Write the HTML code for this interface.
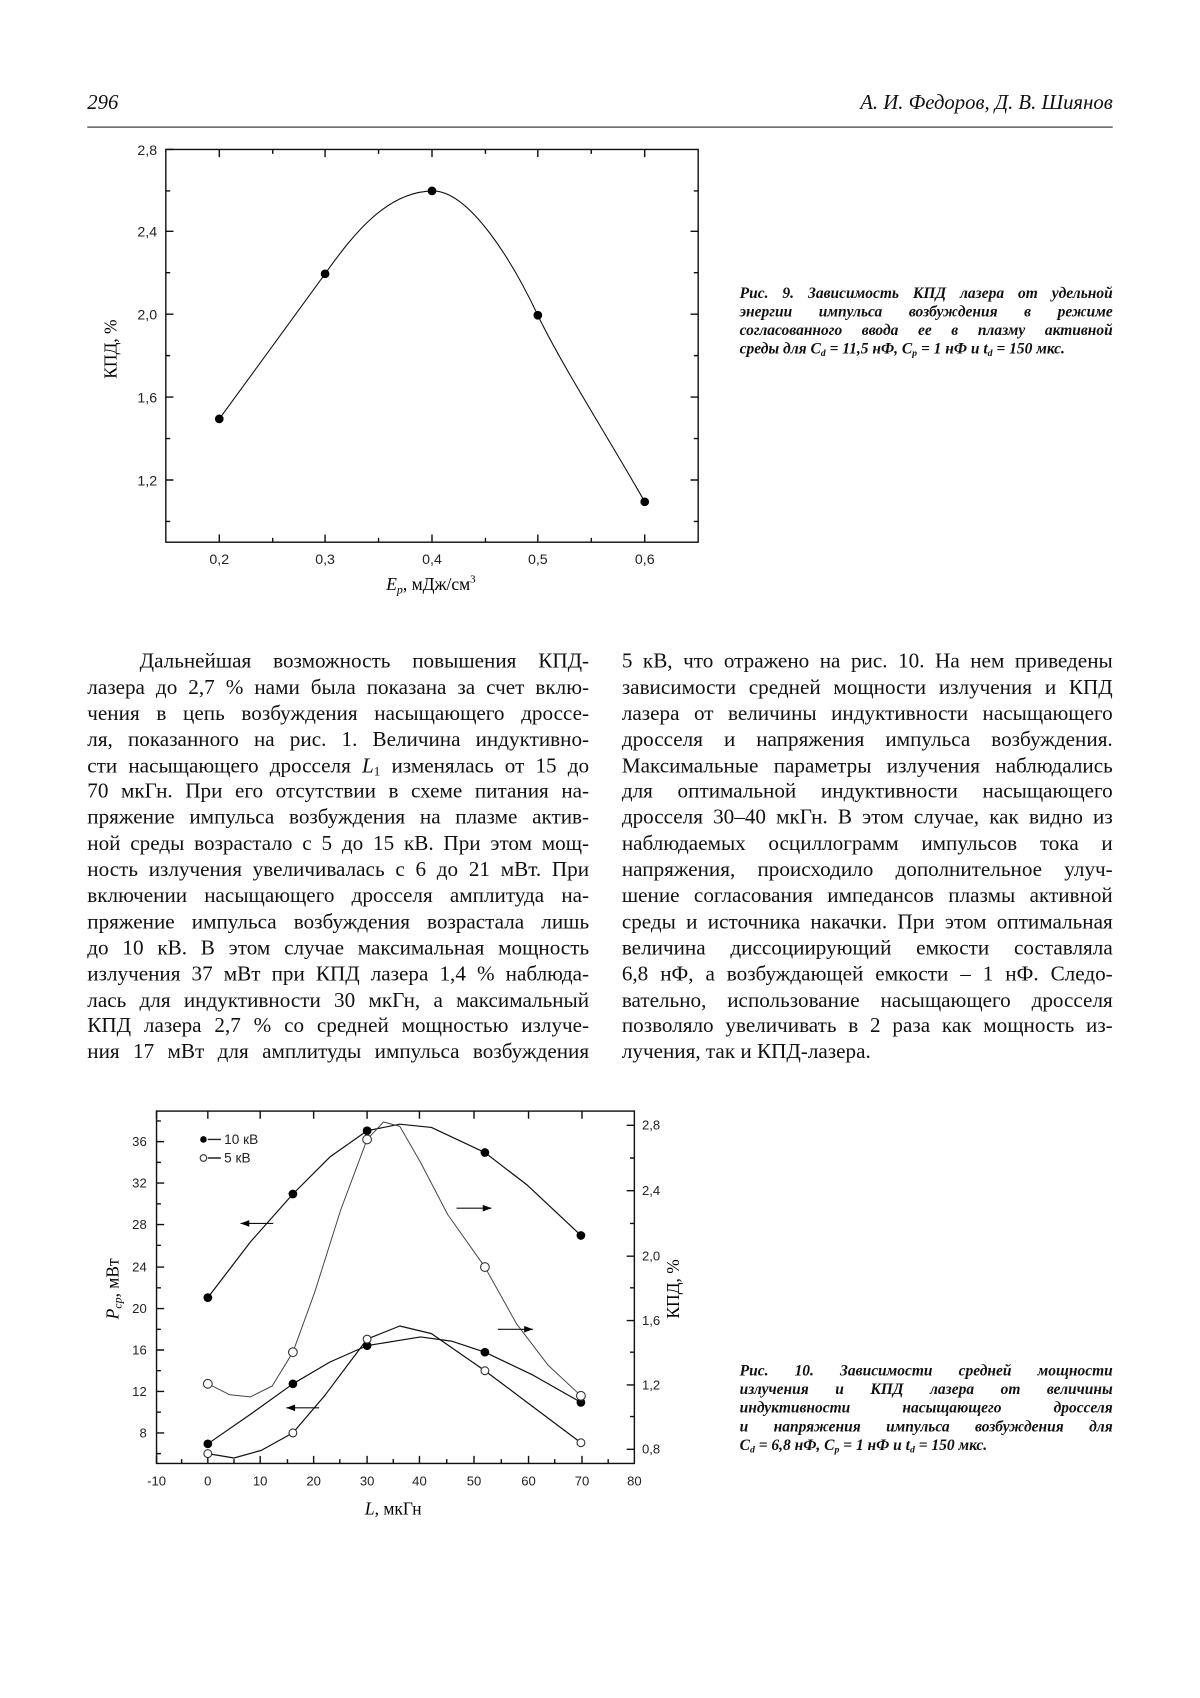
<!DOCTYPE html>
<html><head><meta charset="utf-8">
<style>
html,body{margin:0;padding:0;background:#fff;}
body{width:1200px;height:1698px;overflow:hidden;}
#p{position:absolute;left:0;top:0;width:1100px;height:1556px;transform:scale(1.090909);transform-origin:0 0;font-family:"Liberation Serif",serif;color:#111;}
.abs{position:absolute;}
.col{position:absolute;top:595px;font-size:19.4px;line-height:23.9px;}
.col div{height:23.9px;text-align:justify;text-align-last:justify;white-space:nowrap;}
.col div.l{text-align-last:left;}
sub{line-height:0;vertical-align:-0.25em;}
.cap{position:absolute;font-weight:bold;font-style:italic;font-size:14.2px;line-height:17px;}
.cap div{text-align:justify;text-align-last:justify;white-space:nowrap;}
.cap div.l{text-align-last:left;}
svg text{font-family:"Liberation Sans",sans-serif;}
</style></head><body><div id="p">
<div class="abs" style="left:80px;top:84px;font-size:19px;font-style:italic;">296</div>
<div class="abs" style="right:80px;top:84px;font-size:19px;font-style:italic;">А. И. Федоров, Д. В. Шиянов</div>
<div class="abs" style="left:80px;top:116px;width:940px;height:1.3px;background:#222;"></div>

<svg class="abs" style="left:0;top:0" width="1100" height="1556">
<g stroke="#111" fill="none" stroke-width="1.3">
<rect x="152" y="137" width="488" height="360"/>
<path d="M201,497v-7M298,497v-7M396,497v-7M493,497v-7M591,497v-7M250,497v-4M347,497v-4M445,497v-4M542,497v-4
M201,137v7M298,137v7M396,137v7M493,137v7M591,137v7M250,137v4M347,137v4M445,137v4M542,137v4
M152,137h7M152,212h7M152,288h7M152,364h7M152,440h7M152,175h4M152,250h4M152,326h4M152,402h4M152,478h4
M640,212h-7M640,288h-7M640,364h-7M640,440h-7M640,175h-4M640,250h-4M640,326h-4M640,402h-4M640,478h-4"/>
<path stroke-width="1" d="M201,384 C230,344 270,290 298,251 C325,213 355,176 396,175 C430,174 470,240 493,289 C515,335 560,405 591,460"/>
</g>
<g fill="#000"><circle cx="201" cy="384" r="4"/><circle cx="298" cy="251" r="4"/><circle cx="396" cy="175" r="4"/><circle cx="493" cy="289" r="4"/><circle cx="591" cy="460" r="4"/></g>
<g font-size="13" text-anchor="end" fill="#222">
<text x="144" y="142">2,8</text><text x="144" y="217">2,4</text><text x="144" y="293">2,0</text><text x="144" y="369">1,6</text><text x="144" y="445">1,2</text>
</g>
<g font-size="13" text-anchor="middle" fill="#222">
<text x="201" y="517">0,2</text><text x="298" y="517">0,3</text><text x="396" y="517">0,4</text><text x="493" y="517">0,5</text><text x="591" y="517">0,6</text>
</g>
<text transform="translate(107,320) rotate(-90)" text-anchor="middle" font-size="16" style="font-family:'Liberation Serif',serif">КПД, %</text>
<text x="395" y="541" text-anchor="middle" font-size="16" style="font-family:'Liberation Serif',serif"><tspan font-style="italic">E</tspan><tspan font-style="italic" font-size="11" dy="3">p</tspan><tspan dy="-3">, мДж/см</tspan><tspan font-size="10" dy="-7">3</tspan></text>

<g transform="translate(-1.5,-8.5)">
<g stroke="#111" fill="none" stroke-width="1.3">
<rect x="145" y="1027" width="438" height="323"/>
<path d="M145,1350v-7M192,1350v-7M240,1350v-7M289,1350v-7M338,1350v-7M386,1350v-7M436,1350v-7M486,1350v-7M535,1350v-7
M168,1350v-4M216,1350v-4M265,1350v-4M313,1350v-4M362,1350v-4M411,1350v-4M461,1350v-4M510,1350v-4M559,1350v-4
M145,1027v7M192,1027v7M240,1027v7M289,1027v7M338,1027v7M386,1027v7M436,1027v7M486,1027v7M535,1027v7
M145,1055h7M145,1093h7M145,1131h7M145,1170h7M145,1208h7M145,1246h7M145,1284h7M145,1322h7
M145,1036h4M145,1074h4M145,1112h4M145,1150h4M145,1189h4M145,1227h4M145,1265h4M145,1303h4M145,1341h4
M583,1040h-7M583,1100h-7M583,1160h-7M583,1219h-7M583,1278h-7M583,1337h-7
M583,1070h-4M583,1130h-4M583,1189h-4M583,1248h-4M583,1307h-4"/>
<g stroke-width="1.1" stroke-linejoin="round">
<polyline points="192,1198 231,1147 270,1103 304,1069 338,1045 368,1039 397,1042 446,1065 485,1095 534,1141"/>
<polyline stroke="#444" stroke-width="0.9" points="192,1277 212,1287 231,1289 251,1279 270,1248 290,1193 314,1117 338,1053 353,1037 368,1041 387,1074 412,1122 446,1170 475,1222 504,1260 534,1288"/>
<polyline points="192,1341 216,1345 241,1338 270,1322 299,1288 338,1236 368,1224 397,1231 446,1265 490,1298 534,1331"/>
<polyline points="192,1332 231,1305 270,1277 304,1257 338,1242 387,1234 416,1238 446,1248 490,1269 534,1294"/>
</g>
<path d="M222,1130h30M264,1299h30M420,1116h32M458,1227h32" stroke-width="1"/>
</g>
<g fill="#000">
<path d="M222,1130l8,-3v6zM264,1299l8,-3v6zM452,1116l-8,-3v6zM490,1227l-8,-3v6z"/>
<circle cx="192" cy="1198" r="4"/><circle cx="270" cy="1103" r="4"/><circle cx="338" cy="1045" r="4"/><circle cx="446" cy="1065" r="4"/><circle cx="534" cy="1141" r="4"/>
<circle cx="192" cy="1332" r="4"/><circle cx="270" cy="1277" r="4"/><circle cx="338" cy="1242" r="4"/><circle cx="446" cy="1248" r="4"/><circle cx="534" cy="1294" r="4"/>
<circle cx="188" cy="1053" r="3"/>
</g>
<g fill="#fff" stroke="#333" stroke-width="1">
<circle cx="192" cy="1341" r="3.6"/><circle cx="270" cy="1322" r="3.6"/><circle cx="338" cy="1236" r="3.6"/><circle cx="446" cy="1265" r="3.6"/><circle cx="534" cy="1331" r="3.6"/>
<circle cx="192" cy="1277" r="4"/><circle cx="270" cy="1248" r="4"/><circle cx="338" cy="1053" r="4"/><circle cx="446" cy="1170" r="4"/><circle cx="534" cy="1288" r="4"/>
<circle cx="188" cy="1070" r="3"/>
</g>
<path d="M192,1053h12M192,1070h12" stroke="#222" stroke-width="1.3"/>
<g font-size="12.5" style="font-family:'Liberation Serif',serif" fill="#222"><text x="207" y="1057">10 кВ</text><text x="207" y="1074">5 кВ</text></g>
<g font-size="12" text-anchor="end" fill="#222">
<text x="136" y="1059">36</text><text x="136" y="1097">32</text><text x="136" y="1135">28</text><text x="136" y="1174">24</text><text x="136" y="1212">20</text><text x="136" y="1250">16</text><text x="136" y="1288">12</text><text x="136" y="1326">8</text>
</g>
<g font-size="12" fill="#222">
<text x="590" y="1044">2,8</text><text x="590" y="1104">2,4</text><text x="590" y="1164">2,0</text><text x="590" y="1223">1,6</text><text x="590" y="1282">1,2</text><text x="590" y="1341">0,8</text>
</g>
<g font-size="12" text-anchor="middle" fill="#222">
<text x="145" y="1370">-10</text><text x="192" y="1370">0</text><text x="240" y="1370">10</text><text x="289" y="1370">20</text><text x="338" y="1370">30</text><text x="386" y="1370">40</text><text x="436" y="1370">50</text><text x="486" y="1370">60</text><text x="535" y="1370">70</text><text x="583" y="1370">80</text>
</g>
<text transform="translate(110,1190) rotate(-90)" text-anchor="middle" font-size="16" style="font-family:'Liberation Serif',serif"><tspan font-style="italic">P</tspan><tspan font-style="italic" font-size="11" dy="3">ср</tspan><tspan dy="-3">, мВт</tspan></text>
<text transform="translate(624,1190) rotate(-90)" text-anchor="middle" font-size="16" style="font-family:'Liberation Serif',serif">КПД, %</text>
<text x="362" y="1397" text-anchor="middle" font-size="16" style="font-family:'Liberation Serif',serif"><tspan font-style="italic">L</tspan>, мкГн</text>
</g>
</svg>

<div class="cap" style="left:678px;top:261px;width:342px;">
<div>Рис. 9. Зависимость КПД лазера от удельной</div>
<div>энергии импульса возбуждения в режиме</div>
<div>согласованного ввода ее в плазму активной</div>
<div class="l">среды для C<sub style="font-size:9px">d</sub> = 11,5 нФ, C<sub style="font-size:9px">p</sub> = 1 нФ и t<sub style="font-size:9px">d</sub> = 150 мкс.</div>
</div>
<div class="cap" style="left:678px;top:1249px;width:342px;">
<div>Рис. 10. Зависимости средней мощности</div>
<div>излучения и КПД лазера от величины</div>
<div>индуктивности насыщающего дросселя</div>
<div>и напряжения импульса возбуждения для</div>
<div class="l">C<sub style="font-size:9px">d</sub> = 6,8 нФ, C<sub style="font-size:9px">p</sub> = 1 нФ и t<sub style="font-size:9px">d</sub> = 150 мкс.</div>
</div>

<div class="col" style="left:80px;width:460px;">
<div style="padding-left:48px">Дальнейшая возможность повышения КПД-</div>
<div>лазера до 2,7 % нами была показана за счет вклю-</div>
<div>чения в цепь возбуждения насыщающего дроссе-</div>
<div>ля, показанного на рис. 1. Величина индуктивно-</div>
<div>сти насыщающего дросселя <i>L</i><sub style="font-size:12px">1</sub> изменялась от 15 до</div>
<div>70 мкГн. При его отсутствии в схеме питания на-</div>
<div>пряжение импульса возбуждения на плазме актив-</div>
<div>ной среды возрастало с 5 до 15 кВ. При этом мощ-</div>
<div>ность излучения увеличивалась с 6 до 21 мВт. При</div>
<div>включении насыщающего дросселя амплитуда на-</div>
<div>пряжение импульса возбуждения возрастала лишь</div>
<div>до 10 кВ. В этом случае максимальная мощность</div>
<div>излучения 37 мВт при КПД лазера 1,4 % наблюда-</div>
<div>лась для индуктивности 30 мкГн, а максимальный</div>
<div>КПД лазера 2,7 % со средней мощностью излуче-</div>
<div>ния 17 мВт для амплитуды импульса возбуждения</div>
</div>
<div class="col" style="left:570px;width:450px;">
<div>5 кВ, что отражено на рис. 10. На нем приведены</div>
<div>зависимости средней мощности излучения и КПД</div>
<div>лазера от величины индуктивности насыщающего</div>
<div>дросселя и напряжения импульса возбуждения.</div>
<div>Максимальные параметры излучения наблюдались</div>
<div>для оптимальной индуктивности насыщающего</div>
<div>дросселя 30–40 мкГн. В этом случае, как видно из</div>
<div>наблюдаемых осциллограмм импульсов тока и</div>
<div>напряжения, происходило дополнительное улуч-</div>
<div>шение согласования импедансов плазмы активной</div>
<div>среды и источника накачки. При этом оптимальная</div>
<div>величина диссоциирующий емкости составляла</div>
<div>6,8 нФ, а возбуждающей емкости – 1 нФ. Следо-</div>
<div>вательно, использование насыщающего дросселя</div>
<div>позволяло увеличивать в 2 раза как мощность из-</div>
<div class="l">лучения, так и КПД-лазера.</div>
</div>
</div></body></html>
